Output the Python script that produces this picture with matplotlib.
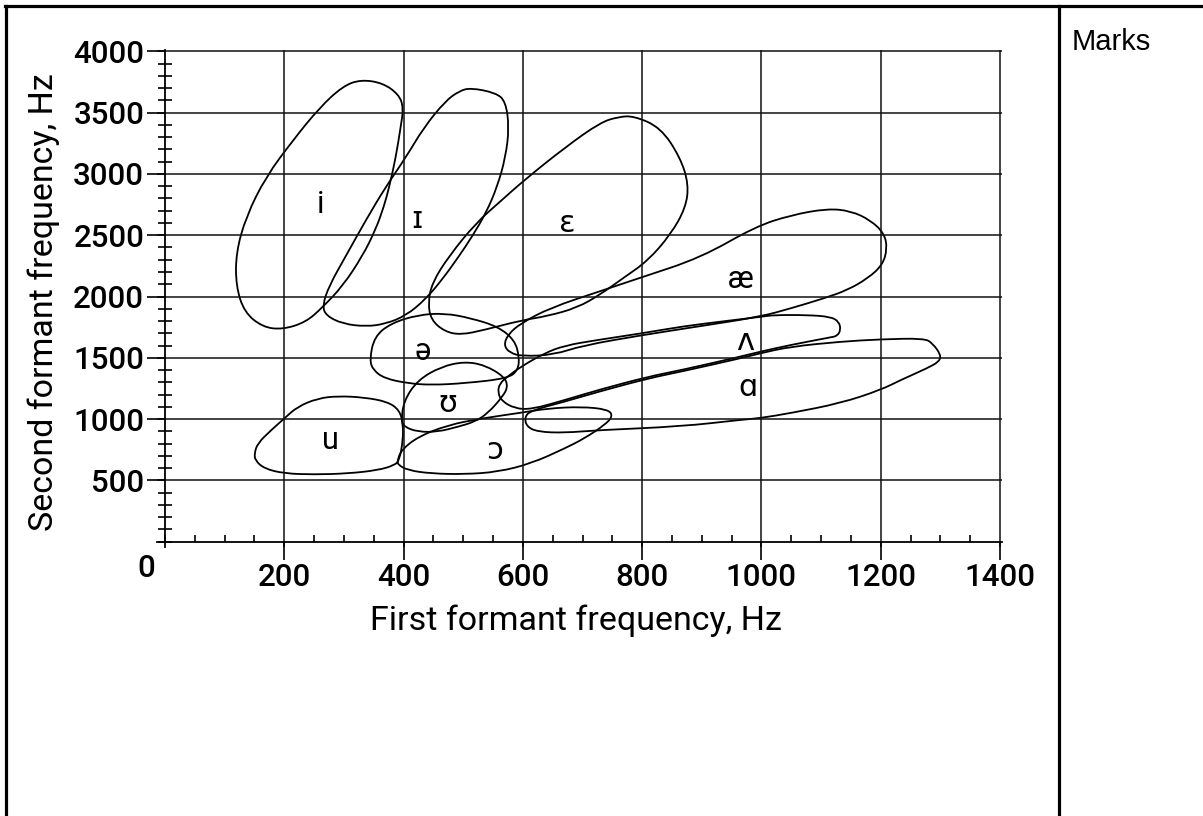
import numpy as np
import matplotlib.pyplot as plt
from matplotlib.path import Path
from matplotlib.patches import PathPatch
from matplotlib.lines import Line2D
from matplotlib.ticker import MultipleLocator

plt.rcParams['font.family'] = ['Roboto', 'DejaVu Sans']
plt.rcParams['font.weight'] = 'medium'

# vowel regions: outline points as (F1, F2) in Hz
vowel_i = [(328, 3769), (365, 3742), (392, 3648), (400, 3540), (395, 3379), (387, 3136),
           (376, 2894), (367, 2733), (353, 2544), (331, 2329), (298, 2086), (264, 1911),
           (236, 1790), (197, 1731), (164, 1750), (133, 1871), (119, 2086), (119, 2356),
           (136, 2652), (169, 2975), (214, 3271), (259, 3540), (298, 3715)]
vowel_I = [(512, 3702), (554, 3662), (571, 3594), (577, 3379), (571, 3136), (557, 2894),
           (538, 2679), (515, 2490), (493, 2329), (465, 2140), (437, 1978), (404, 1844),
           (370, 1777), (337, 1755), (298, 1777), (270, 1844), (264, 1925), (275, 2086),
           (303, 2329), (337, 2625), (370, 2894), (404, 3136), (434, 3379), (470, 3594),
           (493, 3675)]
vowel_E = [(786, 3473), (831, 3378), (864, 3133), (878, 2915), (873, 2724), (848, 2507),
           (809, 2289), (769, 2153), (730, 2017), (691, 1908), (641, 1840), (597, 1805),
           (536, 1728), (496, 1687), (469, 1714), (446, 1809), (441, 1950), (448, 2113),
           (476, 2329), (521, 2598), (563, 2779), (602, 2948), (671, 3217), (730, 3420),
           (760, 3465)]
vowel_ae = [(568, 1603), (575, 1690), (596, 1780), (646, 1908), (730, 2044), (797, 2153),
            (898, 2316), (990, 2570), (1049, 2663), (1110, 2717), (1150, 2698), (1183, 2622),
            (1206, 2514), (1211, 2391), (1203, 2256), (1178, 2147), (1144, 2052), (1105, 1985),
            (1049, 1903), (998, 1835), (900, 1760), (800, 1685), (700, 1600), (652, 1525),
            (600, 1512), (578, 1540)]
vowel_uh = [(558, 1220), (561, 1290), (575, 1350), (597, 1428), (636, 1537), (670, 1600),
            (726, 1646), (800, 1700), (866, 1755), (940, 1800), (1000, 1835), (1021, 1849),
            (1077, 1849), (1116, 1835), (1130, 1795), (1133, 1727), (1127, 1678), (1116, 1667),
            (1049, 1605), (998, 1550), (965, 1510), (866, 1400), (810, 1346), (726, 1237),
            (670, 1155), (614, 1079), (586, 1087), (564, 1150)]
vowel_a = [(603, 1019), (614, 1070), (670, 1142), (726, 1222), (810, 1332), (866, 1388),
           (965, 1496), (998, 1537), (1049, 1591), (1133, 1632), (1200, 1651), (1273, 1659),
           (1287, 1618), (1301, 1523), (1298, 1469), (1278, 1415), (1234, 1320), (1200, 1238),
           (1133, 1130), (1049, 1049), (998, 1008), (965, 994), (866, 940), (726, 910),
           (670, 888), (625, 896), (606, 940)]
vowel_schwa = [(343, 1482), (351, 1673), (379, 1782), (424, 1850), (469, 1864), (513, 1823),
               (558, 1755), (586, 1646), (594, 1510), (592, 1400), (575, 1332), (502, 1292),
               (446, 1278), (407, 1292), (368, 1332), (349, 1400)]
vowel_U = [(396, 992), (401, 1155), (424, 1319), (463, 1428), (502, 1469), (536, 1441),
           (569, 1346), (575, 1264), (566, 1183), (541, 1046), (519, 978), (491, 937),
           (457, 896), (424, 896), (401, 937)]
vowel_u = [(150, 719), (155, 801), (178, 910), (200, 1005), (222, 1101), (256, 1169),
           (290, 1188), (334, 1177), (373, 1142), (393, 1074), (399, 965), (399, 828),
           (393, 665), (385, 624), (357, 583), (306, 556), (250, 548), (200, 556),
           (166, 597), (151, 665)]
vowel_O = [(390, 665), (396, 746), (424, 856), (474, 951), (530, 1005), (597, 1052),
           (642, 1087), (698, 1101), (743, 1079), (751, 1024), (737, 951), (703, 842),
           (670, 760), (614, 638), (558, 569), (502, 550), (446, 556), (407, 583), (390, 630)]

regions = [vowel_i, vowel_I, vowel_E, vowel_ae, vowel_uh, vowel_a,
           vowel_schwa, vowel_U, vowel_u, vowel_O]

symbols = ['i', 'ɪ', 'ɛ', 'æ', 'ʌ', 'ɑ', 'ə', 'ʊ', 'u', 'ɔ']
symbol_f1 = [260, 423, 674, 965, 973, 977, 432, 474, 278, 552]
symbol_f2 = [2750, 2625, 2595, 2140, 1636, 1255, 1550, 1128, 828, 746]

x_ticks = [200, 400, 600, 800, 1000, 1200, 1400]
y_ticks = [500, 1000, 1500, 2000, 2500, 3000, 3500, 4000]


def smooth_closed(pts):
    # closed quadratic spline through the traced outline
    p = np.asarray(pts, float)
    mids = (p + np.roll(p, -1, axis=0)) / 2
    verts = [mids[-1]]
    codes = [Path.MOVETO]
    for k in range(len(p)):
        verts += [p[k], mids[k]]
        codes += [Path.CURVE3, Path.CURVE3]
    return Path(verts, codes)


W, H = 1203, 816
fig = plt.figure(figsize=(W / 100, H / 100), dpi=100)

# pixel placement of the plot: origin and scale
x0px, y0px = 165, 541.7
sx, sy = 835 / 1400, 490.4 / 4000
xlim = (-14, 1403)
ylim = (-40, 4010)
left = (x0px + xlim[0] * sx) / W
right = (x0px + xlim[1] * sx) / W
top = 1 - (y0px - ylim[1] * sy) / H
bottom = 1 - (y0px - ylim[0] * sy) / H
ax = fig.add_axes([left, bottom, right - left, top - bottom])
ax.set_xlim(*xlim)
ax.set_ylim(*ylim)

for s in ['top', 'right']:
    ax.spines[s].set_visible(False)
for s in ['left', 'bottom']:
    ax.spines[s].set_position(('data', 0))
    ax.spines[s].set_linewidth(1.3)

ax.set_xticks(x_ticks)
ax.set_yticks(y_ticks)
ax.xaxis.set_minor_locator(MultipleLocator(50))
ax.yaxis.set_minor_locator(MultipleLocator(100))
ax.grid(True, which='major', color='#111111', lw=1.1)
ax.tick_params(axis='x', which='major', direction='out', length=13, width=1.2, pad=2, labelsize=22.5)
ax.tick_params(axis='x', which='minor', direction='in', length=5, width=1.2)
ax.tick_params(axis='y', which='major', direction='out', length=13, width=1.2, pad=2, labelsize=22.5)
ax.tick_params(axis='y', which='minor', direction='inout', length=9.5, width=1.2)

ax.annotate('0', xy=(0, 0), xytext=(-18.5, -35), textcoords='offset pixels',
            ha='center', va='baseline', fontsize=22.5)

for reg in regions:
    ax.add_patch(PathPatch(smooth_closed(reg), fill=False, ec='black', lw=1.3))

for sym, f1, f2 in zip(symbols, symbol_f1, symbol_f2):
    ax.text(f1, f2, sym, ha='center', va='center', fontsize=22, fontweight='normal')

ax.set_xlabel('First formant frequency, Hz', fontsize=24.5)
ax.set_ylabel('Second formant frequency, Hz', fontsize=24.5)
ax.xaxis.set_label_coords(575.5 / W, 1 - 605 / H, transform=fig.transFigure)
ax.yaxis.set_label_coords(60 / W, 1 - 302 / H, transform=fig.transFigure)

# table frame around the chart and the side column
frame = dict(transform=fig.transFigure, color='black', lw=2.3)
fig.add_artist(Line2D([5 / W, 1], [1 - 6 / H, 1 - 6 / H], **frame))
fig.add_artist(Line2D([5.5 / W, 5.5 / W], [0, 1 - 6 / H], **frame))
fig.add_artist(Line2D([1058.5 / W, 1058.5 / W], [0, 1 - 6 / H], **frame))
fig.text(1072 / W, 1 - 50 / H, 'Marks', family='Liberation Sans', fontweight='normal',
         fontsize=21, va='baseline')

fig.savefig('out.png', dpi=100)
